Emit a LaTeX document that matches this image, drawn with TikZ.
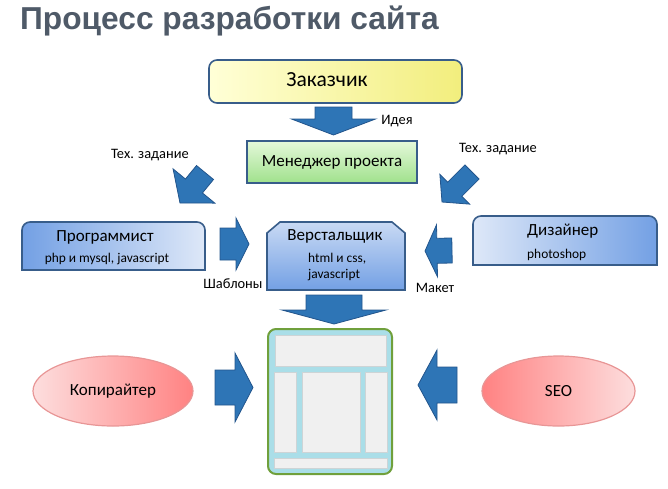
\documentclass[tikz,border=0pt]{standalone}
\usepackage{fontspec}
\setmainfont{Carlito}
\newfontfamily\titlefont{Liberation Sans}
\usetikzlibrary{calc,shapes.geometric}

\definecolor{arrowblue}{RGB}{46,117,182}
\definecolor{arrowedge}{RGB}{35,85,140}
\definecolor{boxedge}{RGB}{56,93,138}
\definecolor{titlegray}{RGB}{79,90,104}
\definecolor{zakL}{RGB}{255,255,215}
\definecolor{zakR}{RGB}{242,238,125}
\definecolor{mgrT}{RGB}{228,248,218}
\definecolor{mgrB}{RGB}{160,225,140}
\definecolor{blueD}{RGB}{115,160,228}
\definecolor{blueL}{RGB}{222,232,248}
\definecolor{pinkL}{RGB}{253,222,222}
\definecolor{pinkD}{RGB}{255,130,130}
\definecolor{pinkedge}{RGB}{232,150,150}
\definecolor{layoutgreen}{RGB}{112,160,60}
\definecolor{layoutcyan}{RGB}{170,222,232}
\definecolor{panelgray}{RGB}{240,240,240}
\definecolor{panelline}{RGB}{205,212,214}

\tikzset{
  barrow/.style={fill=arrowblue, draw=arrowedge, line width=0.8pt, line join=miter},
  boxline/.style={draw=boxedge, line width=1.6pt},
  ttl/.style={font=\fontsize{17}{20}\selectfont, inner sep=0pt},
  subtxt/.style={font=\fontsize{13.4}{16}\selectfont, inner sep=0pt, align=left},
  lbl/.style={font=\fontsize{14.4}{16}\selectfont, inner sep=0pt},
  oval/.style={ellipse, draw=pinkedge, line width=1.2pt, minimum height=70pt,
    font=\fontsize{17}{20}\selectfont, inner sep=0pt},
  panel/.style={fill=panelgray, draw=panelline, line width=0.6pt},
}

% block arrow: (tail)(tip)(shaft half width:head half width:head length)
\def\blockarrow(#1)(#2)(#3:#4:#5){%
  \path ($(#2)!#5pt!(#1)$) coordinate (ah);
  \draw[barrow] ($(#1)!#3pt!90:(#2)$) -- ($(ah)!#3pt!90:(#2)$) -- ($(ah)!#4pt!90:(#2)$) -- (#2)
    -- ($(ah)!#4pt!-90:(#2)$) -- ($(ah)!#3pt!-90:(#2)$) -- ($(#1)!#3pt!-90:(#2)$) -- cycle;}

\begin{document}
\begin{tikzpicture}[x=1pt, y=-1pt]
	%%%%% START %%%%%
	\useasboundingbox (0,0) rectangle (668,488);

	\node[anchor=base west, inner sep=0pt, text=titlegray,
	  font=\titlefont\bfseries\fontsize{31.7}{36}\selectfont] (title) at (20,29.5) {Процесс разработки сайта};

	% customer and manager
	\node[boxline, rounded corners=8pt, minimum width=253pt, minimum height=43pt,
	  left color=zakL, right color=zakR] (zak) at (335.5,81.5) {};
	\node[ttl, font=\fontsize{21.5}{24}\selectfont] (zak-t) at (327,80) {Заказчик};

	\blockarrow(333.5,107)(333.5,135)(18.5:42:16)
	\node[lbl] (idea) at (397,121) {Идея};

	\node[boxline, line width=1.2pt, minimum width=170pt, minimum height=42pt,
	  top color=mgrT, bottom color=mgrB, ttl] (mgr) at (332,162) {Менеджер проекта};

	\blockarrow(205,172.5)(180,203)(11:27:22)
	\node[lbl] (tz-l) at (150,155) {Тех. задание};
	\blockarrow(472,172)(442,202)(10:21:18)
	\node[lbl] (tz-r) at (498,149) {Тех. задание};

	% programmer
	\shadedraw[boxline, left color=blueD, right color=blueL] (22,270) -- (22,230)
	  arc[start angle=180, end angle=270, radius=8] -- (197,222)
	  arc[start angle=270, end angle=360, radius=8] -- (205,270) -- cycle;
	\node[ttl] (prog) at (105,237) {Программист};
	\node[subtxt] (prog-s) at (107,259) {php и mysql, javascript};

	\blockarrow(220,244)(249,244)(16:26:13)
	\node[lbl] (tmpl) at (233,284) {Шаблоны};

	% coder
	\shadedraw[boxline, top color=blueL!80!blueD, bottom color=blueD]
	  (267,290) -- (267,233) -- (280,222) -- (392,222) -- (405,233) -- (405,290) -- cycle;
	\node[ttl] (verst) at (335,236) {Верстальщик};
	\node[subtxt, anchor=west] (verst-s) at (308,267) {html и css,\\javascript};

	% designer
	\shadedraw[boxline, left color=blueL, right color=blueD] (473,265) -- (473,224)
	  arc[start angle=180, end angle=270, radius=8] -- (649,216)
	  arc[start angle=270, end angle=360, radius=8] -- (657,265) -- cycle;
	\node[ttl, anchor=west] (dis) at (527,231) {Дизайнер};
	\node[subtxt, anchor=west] (dis-s) at (527,255) {photoshop};

	\blockarrow(452,250.5)(425,251)(12.5:26:12)
	\node[lbl] (maket) at (435,288) {Макет};

	\blockarrow(334,295)(334,324)(28:52:14)

	% site layout
	\draw[draw=layoutgreen, line width=2pt, fill=layoutcyan, rounded corners=8pt] (268,329) rectangle (392,474);
	\draw[panel] (275,335) rectangle (386,366);
	\draw[panel] (274,372) rectangle (296,452);
	\draw[panel] (302,372) rectangle (360,452);
	\draw[panel] (365,372) rectangle (387,452);
	\draw[panel] (274,458) rectangle (387,468);

	% copywriter and seo
	\node[oval, minimum width=160pt, left color=pinkL, right color=pinkD] (copy) at (113,391) {Копирайтер};
	\blockarrow(215,387.5)(253,387.5)(17.5:34.5:18)

	\node[oval, minimum width=153pt, left color=pinkD, right color=pinkL] (seo) at (558.5,391) {SEO};
	\blockarrow(457,385)(418,385)(18:35:19)
	%%%%% END %%%%%
\end{tikzpicture}
\end{document}
